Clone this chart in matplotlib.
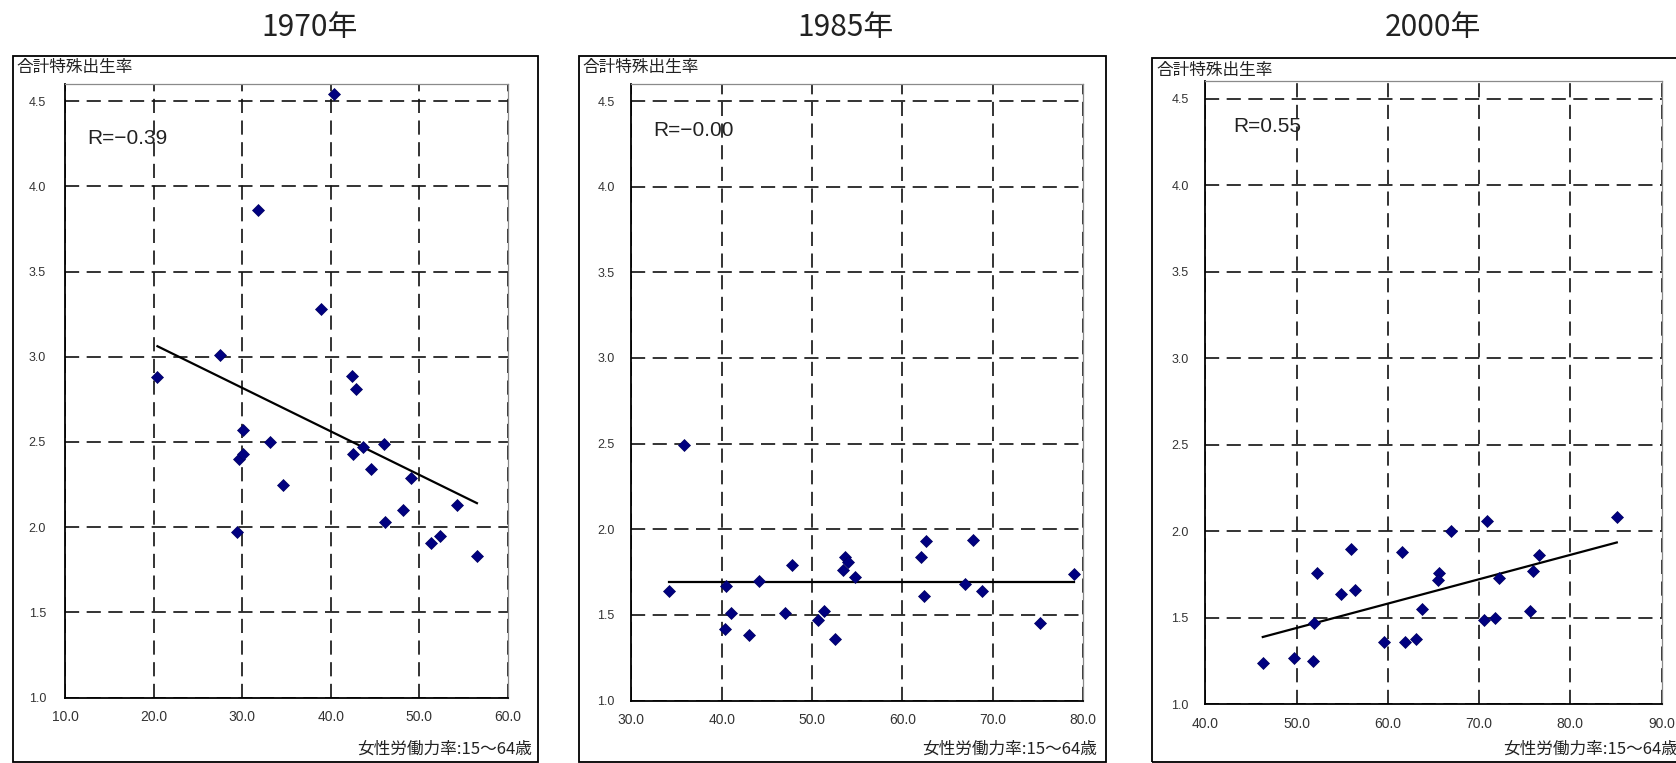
import matplotlib
matplotlib.use("Agg")
import matplotlib.pyplot as plt
from matplotlib.patches import Rectangle
import numpy as np

# ---------------- data ----------------
years = ["1970年", "1985年", "2000年"]

lfp_1970 = [40.3, 31.8, 38.9, 27.5, 20.4, 42.4, 42.8, 30.1, 33.1, 29.6, 30.1, 34.6,
            42.5, 43.6, 44.5, 46.0, 49.0, 48.1, 54.3, 29.4, 46.1, 51.3, 52.3, 56.5]
tfr_1970 = [4.54, 3.86, 3.28, 3.01, 2.88, 2.89, 2.81, 2.57, 2.50, 2.40, 2.43, 2.25,
            2.43, 2.47, 2.34, 2.49, 2.29, 2.10, 2.13, 1.97, 2.03, 1.91, 1.95, 1.83]

lfp_1985 = [35.8, 34.2, 40.5, 40.4, 41.0, 43.0, 44.1, 47.0, 47.8, 50.7, 51.3, 52.5,
            53.6, 54.0, 53.4, 54.7, 62.1, 62.6, 62.4, 66.9, 67.8, 68.8, 75.2, 79.0]
tfr_1985 = [2.49, 1.64, 1.67, 1.42, 1.51, 1.38, 1.70, 1.51, 1.79, 1.47, 1.52, 1.36,
            1.84, 1.81, 1.76, 1.72, 1.84, 1.93, 1.61, 1.68, 1.94, 1.64, 1.45, 1.74]

lfp_2000 = [46.3, 49.7, 51.8, 51.9, 52.2, 54.9, 56.0, 56.4, 59.6, 61.6, 61.9, 63.1,
            63.8, 65.6, 65.5, 66.9, 70.9, 70.5, 71.7, 72.2, 75.6, 75.9, 76.6, 85.1]
tfr_2000 = [1.24, 1.27, 1.25, 1.47, 1.76, 1.64, 1.90, 1.66, 1.36, 1.88, 1.36, 1.38,
            1.55, 1.76, 1.72, 2.00, 2.06, 1.49, 1.50, 1.73, 1.54, 1.77, 1.86, 2.08]

r_labels = ["R=\u22120.39", "R=\u22120.00", "R=0.55"]
trend_slope = [-0.0255, 0.0, 0.01408]
trend_intercept = [3.582, 1.69, 0.737]

x_ranges = [(10.0, 60.0), (30.0, 80.0), (40.0, 90.0)]
y_ticks = [1.0, 1.5, 2.0, 2.5, 3.0, 3.5, 4.0, 4.5]
y_label = "合計特殊出生率"
x_label = "女性労働力率:15～64歳"

xs = [lfp_1970, lfp_1985, lfp_2000]
ys = [tfr_1970, tfr_1985, tfr_2000]

# ---------------- layout (pixels) ----------------
W, H = 1676, 763
CJK = ["Noto Sans CJK JP", "DejaVu Sans"]
LAT = ["Liberation Sans", "DejaVu Sans"]

panels = [
    dict(ax=(65.4, 84, 507.9, 697.7), frame=(12.9, 56, 537.5, 762), title=310,
         r=(87.5, 138.5), ylab=(16.5, 67.5), xlab=(532, 749), ypad=14),
    dict(ax=(631.4, 84, 1083.2, 700.5), frame=(578.6, 56, 1106.4, 762), title=845,
         r=(653.6, 131), ylab=(582, 67.5), xlab=(1097.5, 749), ypad=12),
    dict(ax=(1205.3, 81.3, 1661.5, 704.3), frame=(1151.7, 58, 1700, 762), title=1433,
         r=(1233, 127), ylab=(1156, 70), xlab=(1678, 749), ypad=12),
]


def fx(px):
    return px / W


def fy(py):
    return 1 - py / H


fig = plt.figure(figsize=(W / 100, H / 100), dpi=100)
fig.patch.set_facecolor("white")

for i, p in enumerate(panels):
    l, t, r, b = p["ax"]
    # outer frame
    fl, ft, fr, fb = p["frame"]
    fig.patches.append(Rectangle((fx(fl), fy(fb)), fx(fr) - fx(fl), fy(ft) - fy(fb),
                                 transform=fig.transFigure, fill=False,
                                 edgecolor="black", linewidth=1.3, zorder=0))
    ax = fig.add_axes([fx(l), fy(b), fx(r) - fx(l), fy(t) - fy(b)])
    x0, x1 = x_ranges[i]
    ax.set_xlim(x0, x1)
    ax.set_ylim(1.0, 4.6)
    xt = np.arange(x0, x1 + 0.1, 10.0)
    ax.set_xticks(xt)
    ax.set_xticklabels([f"{v:.1f}" for v in xt], family=LAT, fontsize=10,
                       color="#333333")
    ax.set_yticks(y_ticks)
    ax.set_yticklabels([f"{v:.1f}" for v in y_ticks], family=LAT, fontsize=9,
                       color="#333333")
    ax.tick_params(axis="x", length=0, pad=9)
    ax.tick_params(axis="y", length=0, pad=p["ypad"])
    ax.grid(True, color="#111111", linestyle=(0, (8.5, 4.5)), linewidth=1.2, zorder=1)
    ax.set_axisbelow(True)
    for s in ["left", "bottom"]:
        ax.spines[s].set_color("black")
        ax.spines[s].set_linewidth(1.3)
    for s in ["top", "right"]:
        ax.spines[s].set_color("#8a8a8a")
        ax.spines[s].set_linewidth(0.9)

    ax.plot(xs[i], ys[i], linestyle="none", marker="D", markersize=6,
            markerfacecolor="#000080", markeredgecolor="#000060",
            markeredgewidth=0.5, zorder=4)
    xx = np.array([min(xs[i]), max(xs[i])])
    ax.plot(xx, trend_intercept[i] + trend_slope[i] * xx, color="black",
            linewidth=1.6, zorder=3)

    # texts
    fig.text(fx(p["title"]), fy(28), years[i], ha="center", va="center",
             fontsize=21.5, family=CJK, color="#222222")
    fig.text(fx(p["r"][0]), fy(p["r"][1]), r_labels[i], ha="left", va="center",
             fontsize=15, family=LAT, color="#222222")
    fig.text(fx(p["ylab"][0]), fy(p["ylab"][1]), y_label, ha="left", va="center",
             fontsize=12, family=CJK, color="#222222")
    fig.text(fx(p["xlab"][0]), fy(p["xlab"][1]), x_label, ha="right", va="center",
             fontsize=12, family=CJK, color="#222222")

fig.savefig("out.png", dpi=100, facecolor="white")
